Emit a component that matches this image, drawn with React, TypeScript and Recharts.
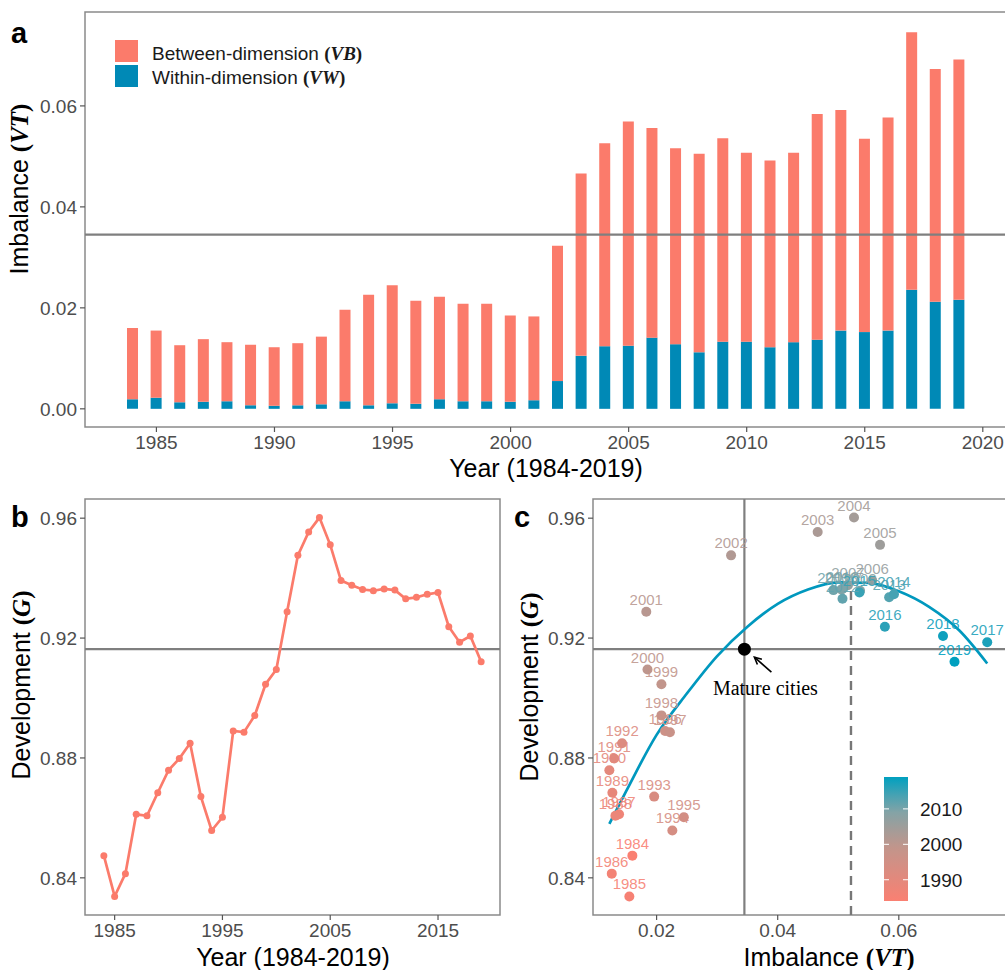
import React from 'react'
import {
  BarChart, Bar, LineChart, Line, ComposedChart, Scatter,
  XAxis, YAxis, ReferenceLine, ReferenceArea,
} from 'recharts'

const FONT = '"Liberation Sans", Arial, sans-serif'
const SERIF = '"Liberation Serif", "Times New Roman", serif'

const YEARS = [
  1984, 1985, 1986, 1987, 1988, 1989, 1990, 1991, 1992, 1993, 1994, 1995,
  1996, 1997, 1998, 1999, 2000, 2001, 2002, 2003, 2004, 2005, 2006, 2007,
  2008, 2009, 2010, 2011, 2012, 2013, 2014, 2015, 2016, 2017, 2018, 2019,
]
// total imbalance VT (top of each bar)
const VT = [
  0.0160, 0.0155, 0.0126, 0.0138, 0.0132, 0.0127, 0.0122, 0.0130, 0.0143, 0.0196, 0.0226, 0.0245,
  0.0214, 0.0222, 0.0208, 0.0208, 0.0185, 0.0183, 0.0323, 0.0466, 0.0526, 0.0569, 0.0556, 0.0516,
  0.0505, 0.0536, 0.0507, 0.0492, 0.0507, 0.0584, 0.0592, 0.0535, 0.0577, 0.0746, 0.0673, 0.0692,
]
// within-dimension part VW
const VW = [
  0.0019, 0.0022, 0.0013, 0.0014, 0.0015, 0.0007, 0.0006, 0.0007, 0.0009, 0.0015, 0.0007, 0.0011,
  0.0010, 0.0019, 0.0015, 0.0015, 0.0014, 0.0017, 0.0055, 0.0105, 0.0124, 0.0125, 0.0141, 0.0128,
  0.0112, 0.0133, 0.0133, 0.0122, 0.0132, 0.0137, 0.0155, 0.0152, 0.0155, 0.0236, 0.0212, 0.0216,
]
// development G
const G = [
  0.8474, 0.8338, 0.8414, 0.8612, 0.8607, 0.8684, 0.8759, 0.8798, 0.8849, 0.8671, 0.8558, 0.8602,
  0.8890, 0.8886, 0.8942, 0.9046, 0.9095, 0.9288, 0.9476, 0.9554, 0.9602, 0.9511, 0.9392, 0.9376,
  0.9362, 0.9358, 0.9364, 0.9360, 0.9331, 0.9336, 0.9346, 0.9352, 0.9238, 0.9186, 0.9207, 0.9121,
]
// fitted curve in panel c
const CURVE_VT = [0.0122, 0.015, 0.02, 0.025, 0.03, 0.035, 0.04, 0.045, 0.05, 0.055, 0.06, 0.065, 0.07, 0.0746]
const CURVE_G = [0.858, 0.869, 0.8877, 0.9015, 0.914, 0.9238, 0.9314, 0.9362, 0.9386, 0.9384, 0.9356, 0.9304, 0.9225, 0.9115]

const MEAN_VT = 0.0345
const MEAN_G = 0.9163
const PEAK_VT = 0.0521
const PEAK_G = 0.9386

const A_X_TICKS = [1985, 1990, 1995, 2000, 2005, 2010, 2015, 2020]
const A_Y_TICKS = [0, 0.02, 0.04, 0.06]
const B_X_TICKS = [1985, 1995, 2005, 2015]
const G_TICKS = [0.84, 0.88, 0.92, 0.96]
const C_X_TICKS = [0.02, 0.04, 0.06]
const LEGEND_YEARS = [1990, 2000, 2010]

const A_X_DOMAIN = [1981.975, 2021.025]
const A_Y_DOMAIN = [-0.0036, 0.0786]
const B_X_DOMAIN = [1982.25, 2020.75]
const G_DOMAIN = [0.8276, 0.9664]
const C_X_DOMAIN = [0.0095, 0.0777]

const SALMON = '#FB7B6B'
const TEAL = '#0089B6'
const CURVE = '#0098BE'
const BORDER = '#8a8a8a'
const REFLINE = '#7f7f7f'

const COLOR_STOPS: [number, number[]][] = [
  [1984, [250, 128, 114]],
  [2000, [190, 150, 141]],
  [2010, [125, 164, 169]],
  [2019, [0, 160, 191]],
]

function yearColor(y: number) {
  for (let i = 0; i < COLOR_STOPS.length - 1; i++) {
    const [y0, c0] = COLOR_STOPS[i]
    const [y1, c1] = COLOR_STOPS[i + 1]
    if (y <= y1 || i === COLOR_STOPS.length - 2) {
      const t = Math.max(0, Math.min(1, (y - y0) / (y1 - y0)))
      const c = c0.map((v, k) => Math.round(v + (c1[k] - v) * t))
      return `rgb(${c[0]},${c[1]},${c[2]})`
    }
  }
  return 'black'
}

const barRows = YEARS.map((year, i) => ({ year, vw: VW[i], vb: VT[i] - VW[i] }))
const lineRows = YEARS.map((year, i) => ({ year, g: G[i] }))
const pointRows = YEARS.map((year, i) => ({ x: VT[i], g: G[i], year }))
const curveRows = CURVE_VT.map((x, i) => ({ x, g: CURVE_G[i] }))
const matureRows = [{ x: MEAN_VT, g: MEAN_G }]

const tickStyle = { fill: '#4d4d4d', fontSize: 19, fontFamily: FONT }
const tickLine = { stroke: '#555', strokeWidth: 1.2 }

const YearDot = (p: any) => (
  <circle cx={p.cx} cy={p.cy} r={5} fill={yearColor(p.payload.year)} />
)
const YearLabel = (p: any) => (
  <text x={p.cx} y={p.cy - 7} textAnchor="middle" fontSize={15} fontFamily={FONT}
    fill={yearColor(p.payload.year)} fillOpacity={0.9}>{p.payload.year}</text>
)
const MatureMark = (p: any) => {
  const { cx, cy } = p
  return (
    <g>
      <circle cx={cx} cy={cy} r={6.5} fill="#000" />
      <line x1={cx + 27} y1={cy + 23} x2={cx + 10} y2={cy + 8} stroke="#000" strokeWidth={1.6} />
      <polyline points={`${cx + 17.5},${cy + 10} ${cx + 10},${cy + 8} ${cx + 13},${cy + 15.3}`}
        fill="none" stroke="#000" strokeWidth={1.6} />
      <text x={cx + 21} y={cy + 46} textAnchor="middle" fontSize={20} fontFamily={SERIF} fill="#000">Mature cities</text>
    </g>
  )
}

function PanelA() {
  return (
    <BarChart width={1010} height={480} data={barRows} margin={{ top: 12, right: 3, bottom: 0, left: 0 }}>
      <XAxis type="number" dataKey="year" domain={A_X_DOMAIN} allowDataOverflow ticks={A_X_TICKS} interval={0}
        tick={tickStyle} tickLine={tickLine} axisLine={false} tickSize={5} tickMargin={4} height={53} />
      <YAxis type="number" domain={A_Y_DOMAIN} allowDataOverflow ticks={A_Y_TICKS} interval={0}
        tickFormatter={(v: number) => v.toFixed(2)}
        tick={tickStyle} tickLine={tickLine} axisLine={false} tickSize={5} tickMargin={3} width={85} />
      <Bar dataKey="vw" stackId="s" fill={TEAL} barSize={11} isAnimationActive={false} />
      <Bar dataKey="vb" stackId="s" fill={SALMON} barSize={11} isAnimationActive={false} />
      <ReferenceLine y={MEAN_VT} stroke={REFLINE} strokeWidth={2.2} />
      <ReferenceArea x1={A_X_DOMAIN[0]} x2={A_X_DOMAIN[1]} y1={A_Y_DOMAIN[0]} y2={A_Y_DOMAIN[1]}
        fill="none" stroke={BORDER} strokeWidth={1.5} ifOverflow="visible" />
    </BarChart>
  )
}

function PanelB() {
  return (
    <LineChart width={503} height={490} data={lineRows} margin={{ top: 19, right: 3, bottom: 0, left: 0 }}>
      <XAxis type="number" dataKey="year" domain={B_X_DOMAIN} allowDataOverflow ticks={B_X_TICKS} interval={0}
        tick={tickStyle} tickLine={tickLine} axisLine={false} tickSize={5} tickMargin={4} height={55} />
      <YAxis type="number" domain={G_DOMAIN} allowDataOverflow ticks={G_TICKS} interval={0}
        tickFormatter={(v: number) => v.toFixed(2)}
        tick={tickStyle} tickLine={tickLine} axisLine={false} tickSize={5} tickMargin={3} width={85} />
      <ReferenceLine y={MEAN_G} stroke={REFLINE} strokeWidth={2.2} />
      <Line type="linear" dataKey="g" stroke={SALMON} strokeWidth={2.7}
        dot={{ r: 3.5, fill: SALMON, stroke: SALMON, strokeWidth: 0 }} activeDot={false} isAnimationActive={false} />
      <ReferenceArea x1={B_X_DOMAIN[0]} x2={B_X_DOMAIN[1]} y1={G_DOMAIN[0]} y2={G_DOMAIN[1]}
        fill="none" stroke={BORDER} strokeWidth={1.5} ifOverflow="visible" />
    </LineChart>
  )
}

function PanelC() {
  return (
    <ComposedChart width={501} height={490} margin={{ top: 19, right: 3, bottom: 0, left: 0 }}>
      <XAxis type="number" dataKey="x" domain={C_X_DOMAIN} allowDataOverflow ticks={C_X_TICKS} interval={0}
        tickFormatter={(v: number) => v.toFixed(2)}
        tick={tickStyle} tickLine={tickLine} axisLine={false} tickSize={5} tickMargin={4} height={55} />
      <YAxis type="number" dataKey="g" domain={G_DOMAIN} allowDataOverflow ticks={G_TICKS} interval={0}
        tickFormatter={(v: number) => v.toFixed(2)}
        tick={tickStyle} tickLine={tickLine} axisLine={false} tickSize={5} tickMargin={3} width={85} />
      <ReferenceLine x={MEAN_VT} stroke={REFLINE} strokeWidth={2.2} />
      <ReferenceLine y={MEAN_G} stroke={REFLINE} strokeWidth={2.2} />
      <ReferenceLine segment={[{ x: PEAK_VT, y: G_DOMAIN[0] }, { x: PEAK_VT, y: PEAK_G }]}
        stroke="#777" strokeWidth={2.4} strokeDasharray="9 6" />
      <Scatter data={pointRows} shape={YearDot} isAnimationActive={false} />
      <Line data={curveRows} type="monotone" dataKey="g" stroke={CURVE} strokeWidth={2.7}
        dot={false} activeDot={false} isAnimationActive={false} />
      <Scatter data={pointRows} shape={YearLabel} isAnimationActive={false} />
      <Scatter data={matureRows} shape={MatureMark} isAnimationActive={false} />
      <ReferenceArea x1={C_X_DOMAIN[0]} x2={C_X_DOMAIN[1]} y1={G_DOMAIN[0]} y2={G_DOMAIN[1]}
        fill="none" stroke={BORDER} strokeWidth={1.5} ifOverflow="visible" />
    </ComposedChart>
  )
}

function Overlay() {
  const legTop = 777
  const legH = 124
  const legY = (yr: number) => legTop + legH - ((yr - YEARS[0]) / (YEARS[YEARS.length - 1] - YEARS[0])) * legH
  const titleStyle = { fontFamily: FONT, fontSize: 25, fill: '#000' }
  const serifBold = { fontFamily: SERIF, fontWeight: 700 }
  return (
    <svg width={1005} height={970} style={{ position: 'absolute', left: 0, top: 0, pointerEvents: 'none' }}>
      <defs>
        <linearGradient id="yearGrad" x1="0" y1="1" x2="0" y2="0">
          {YEARS.filter((_, i) => i % 5 === 0 || i === YEARS.length - 1).map((yr) => (
            <stop key={yr} offset={(yr - YEARS[0]) / (YEARS[YEARS.length - 1] - YEARS[0])} stopColor={yearColor(yr)} />
          ))}
        </linearGradient>
      </defs>
      {/* panel letters */}
      <text x={11} y={43} fontFamily={FONT} fontWeight={700} fontSize={29}>a</text>
      <text x={11} y={527} fontFamily={FONT} fontWeight={700} fontSize={29}>b</text>
      <text x={514} y={527} fontFamily={FONT} fontWeight={700} fontSize={29}>c</text>

      {/* legend a */}
      <rect x={115} y={40} width={23} height={22} fill={SALMON} />
      <rect x={115} y={65} width={23} height={22} fill={TEAL} />
      <text x={152} y={60} fontFamily={FONT} fontSize={19} fill="#1a1a1a">
        Between-dimension <tspan {...serifBold}>(</tspan><tspan {...serifBold} fontStyle="italic">VB</tspan><tspan {...serifBold}>)</tspan>
      </text>
      <text x={152} y={84} fontFamily={FONT} fontSize={19} fill="#1a1a1a">
        Within-dimension <tspan {...serifBold}>(</tspan><tspan {...serifBold} fontStyle="italic">VW</tspan><tspan {...serifBold}>)</tspan>
      </text>

      {/* axis titles */}
      <text x={546} y={477} textAnchor="middle" {...titleStyle}>Year (1984-2019)</text>
      <text x={293} y={966} textAnchor="middle" {...titleStyle}>Year (1984-2019)</text>
      <text x={829} y={966} textAnchor="middle" {...titleStyle}>
        Imbalance <tspan {...serifBold}>(</tspan><tspan {...serifBold} fontStyle="italic">VT</tspan><tspan {...serifBold}>)</tspan>
      </text>
      <text x={28} y={189} textAnchor="middle" transform="rotate(-90 28 189)" {...titleStyle}>
        Imbalance <tspan {...serifBold}>(</tspan><tspan {...serifBold} fontStyle="italic">VT</tspan><tspan {...serifBold}>)</tspan>
      </text>
      <text x={29.5} y={685} textAnchor="middle" transform="rotate(-90 29.5 685)" {...titleStyle}>
        Development <tspan {...serifBold}>(</tspan><tspan {...serifBold} fontStyle="italic">G</tspan><tspan {...serifBold}>)</tspan>
      </text>
      <text x={537.5} y={687} textAnchor="middle" transform="rotate(-90 537.5 687)" {...titleStyle}>
        Development <tspan {...serifBold}>(</tspan><tspan {...serifBold} fontStyle="italic">G</tspan><tspan {...serifBold}>)</tspan>
      </text>

      {/* colour bar legend c */}
      <rect x={884} y={legTop} width={24} height={legH} fill="url(#yearGrad)" />
      {LEGEND_YEARS.map((yr) => (
        <g key={yr}>
          <line x1={884} x2={889} y1={legY(yr)} y2={legY(yr)} stroke="#fff" strokeWidth={1} />
          <line x1={903} x2={908} y1={legY(yr)} y2={legY(yr)} stroke="#fff" strokeWidth={1} />
          <text x={920} y={legY(yr)} dy="0.36em" fontFamily={FONT} fontSize={19} fill="#1a1a1a">{yr}</text>
        </g>
      ))}
    </svg>
  )
}

export default function App() {
  return (
    <div style={{ position: 'absolute', left: 0, top: 0, width: 1005, height: 970, overflow: 'hidden', background: '#fff' }}>
      <div style={{ position: 'absolute', left: 0, top: 0 }}><PanelA /></div>
      <div style={{ position: 'absolute', left: 0, top: 480 }}><PanelB /></div>
      <div style={{ position: 'absolute', left: 508, top: 480 }}><PanelC /></div>
      <Overlay />
    </div>
  )
}
